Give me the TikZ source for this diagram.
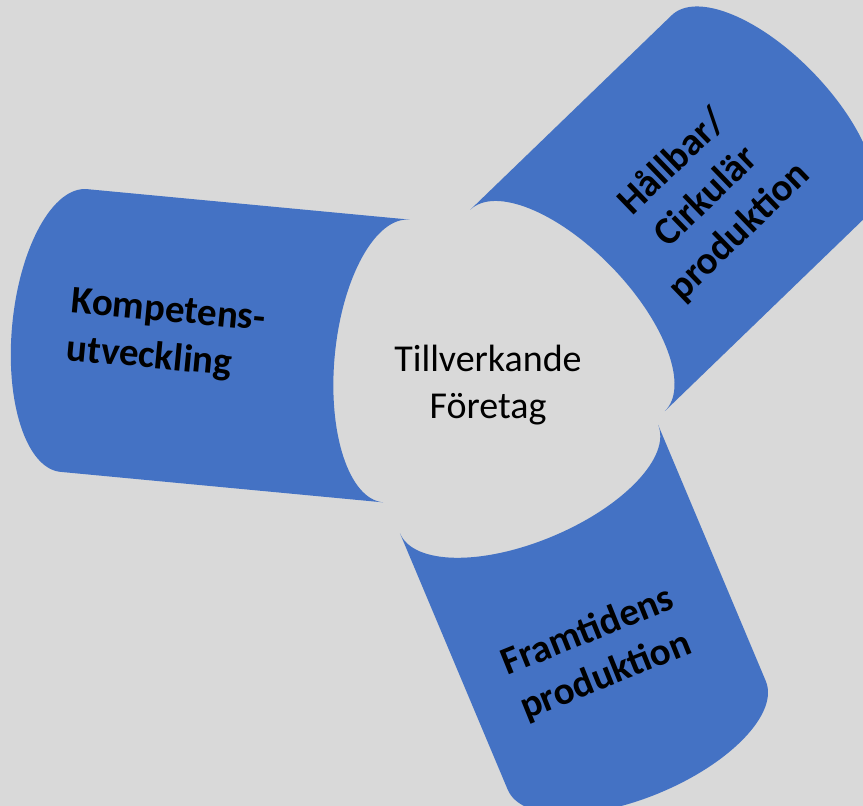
\documentclass[tikz,border=0pt]{standalone}
\usepackage{fontspec}
\setmainfont{Carlito}
\usetikzlibrary{positioning}
\definecolor{canblue}{HTML}{4472C4}
\definecolor{bggray}{HTML}{D9D9D9}

\begin{document}
\begin{tikzpicture}[x=1pt, y=-1pt,
            can/.style ={fill=canblue, draw=none},
            cantext/.style ={font=\fontsize{39}{48}\selectfont\bfseries, text=black, align=center},
            hubtext/.style ={font=\fontsize{38}{47}\selectfont, text=black, align=center}]

        \path[use as bounding box, fill=bggray] (0,0) rectangle (863,806);
        \clip (0,0) rectangle (863,806);

        %cilindros: extremo interior concavo, exterior convexo
        \fill[can, shift={(396.5,361)}, rotate=174.6] (0,-142) -- (324,-142)
            arc[start angle=-90, end angle=90, x radius=62, y radius=142] -- (0,142)
            arc[start angle=90, end angle=-90, x radius=62, y radius=142] -- cycle;
        \fill[can, shift={(567.5,310.5)}, rotate=44] (0,-140) -- (280,-140)
            arc[start angle=-90, end angle=90, x radius=62, y radius=140] -- (0,140)
            arc[start angle=90, end angle=-90, x radius=62, y radius=140] -- cycle;
        \fill[can, shift={(529,479)}, rotate=-67.2] (0,-140) -- (278,-140)
            arc[start angle=-90, end angle=90, x radius=62, y radius=140] -- (0,140)
            arc[start angle=90, end angle=-90, x radius=62, y radius=140] -- cycle;

        \node[hubtext] (hub) at (488,385) {Tillverkande\\Företag};

        \node[cantext, align=left, rotate=-5.4] (komp) at (166,336) {Kompetens-\\utveckling};
        \node[cantext, rotate=44] (hall) at (706,197) {Hållbar/\\Cirkulär\\produktion};
        \node[cantext, rotate=22] (fram) at (597,654) {Framtidens\\produktion};

    \end{tikzpicture}
\end{document}
